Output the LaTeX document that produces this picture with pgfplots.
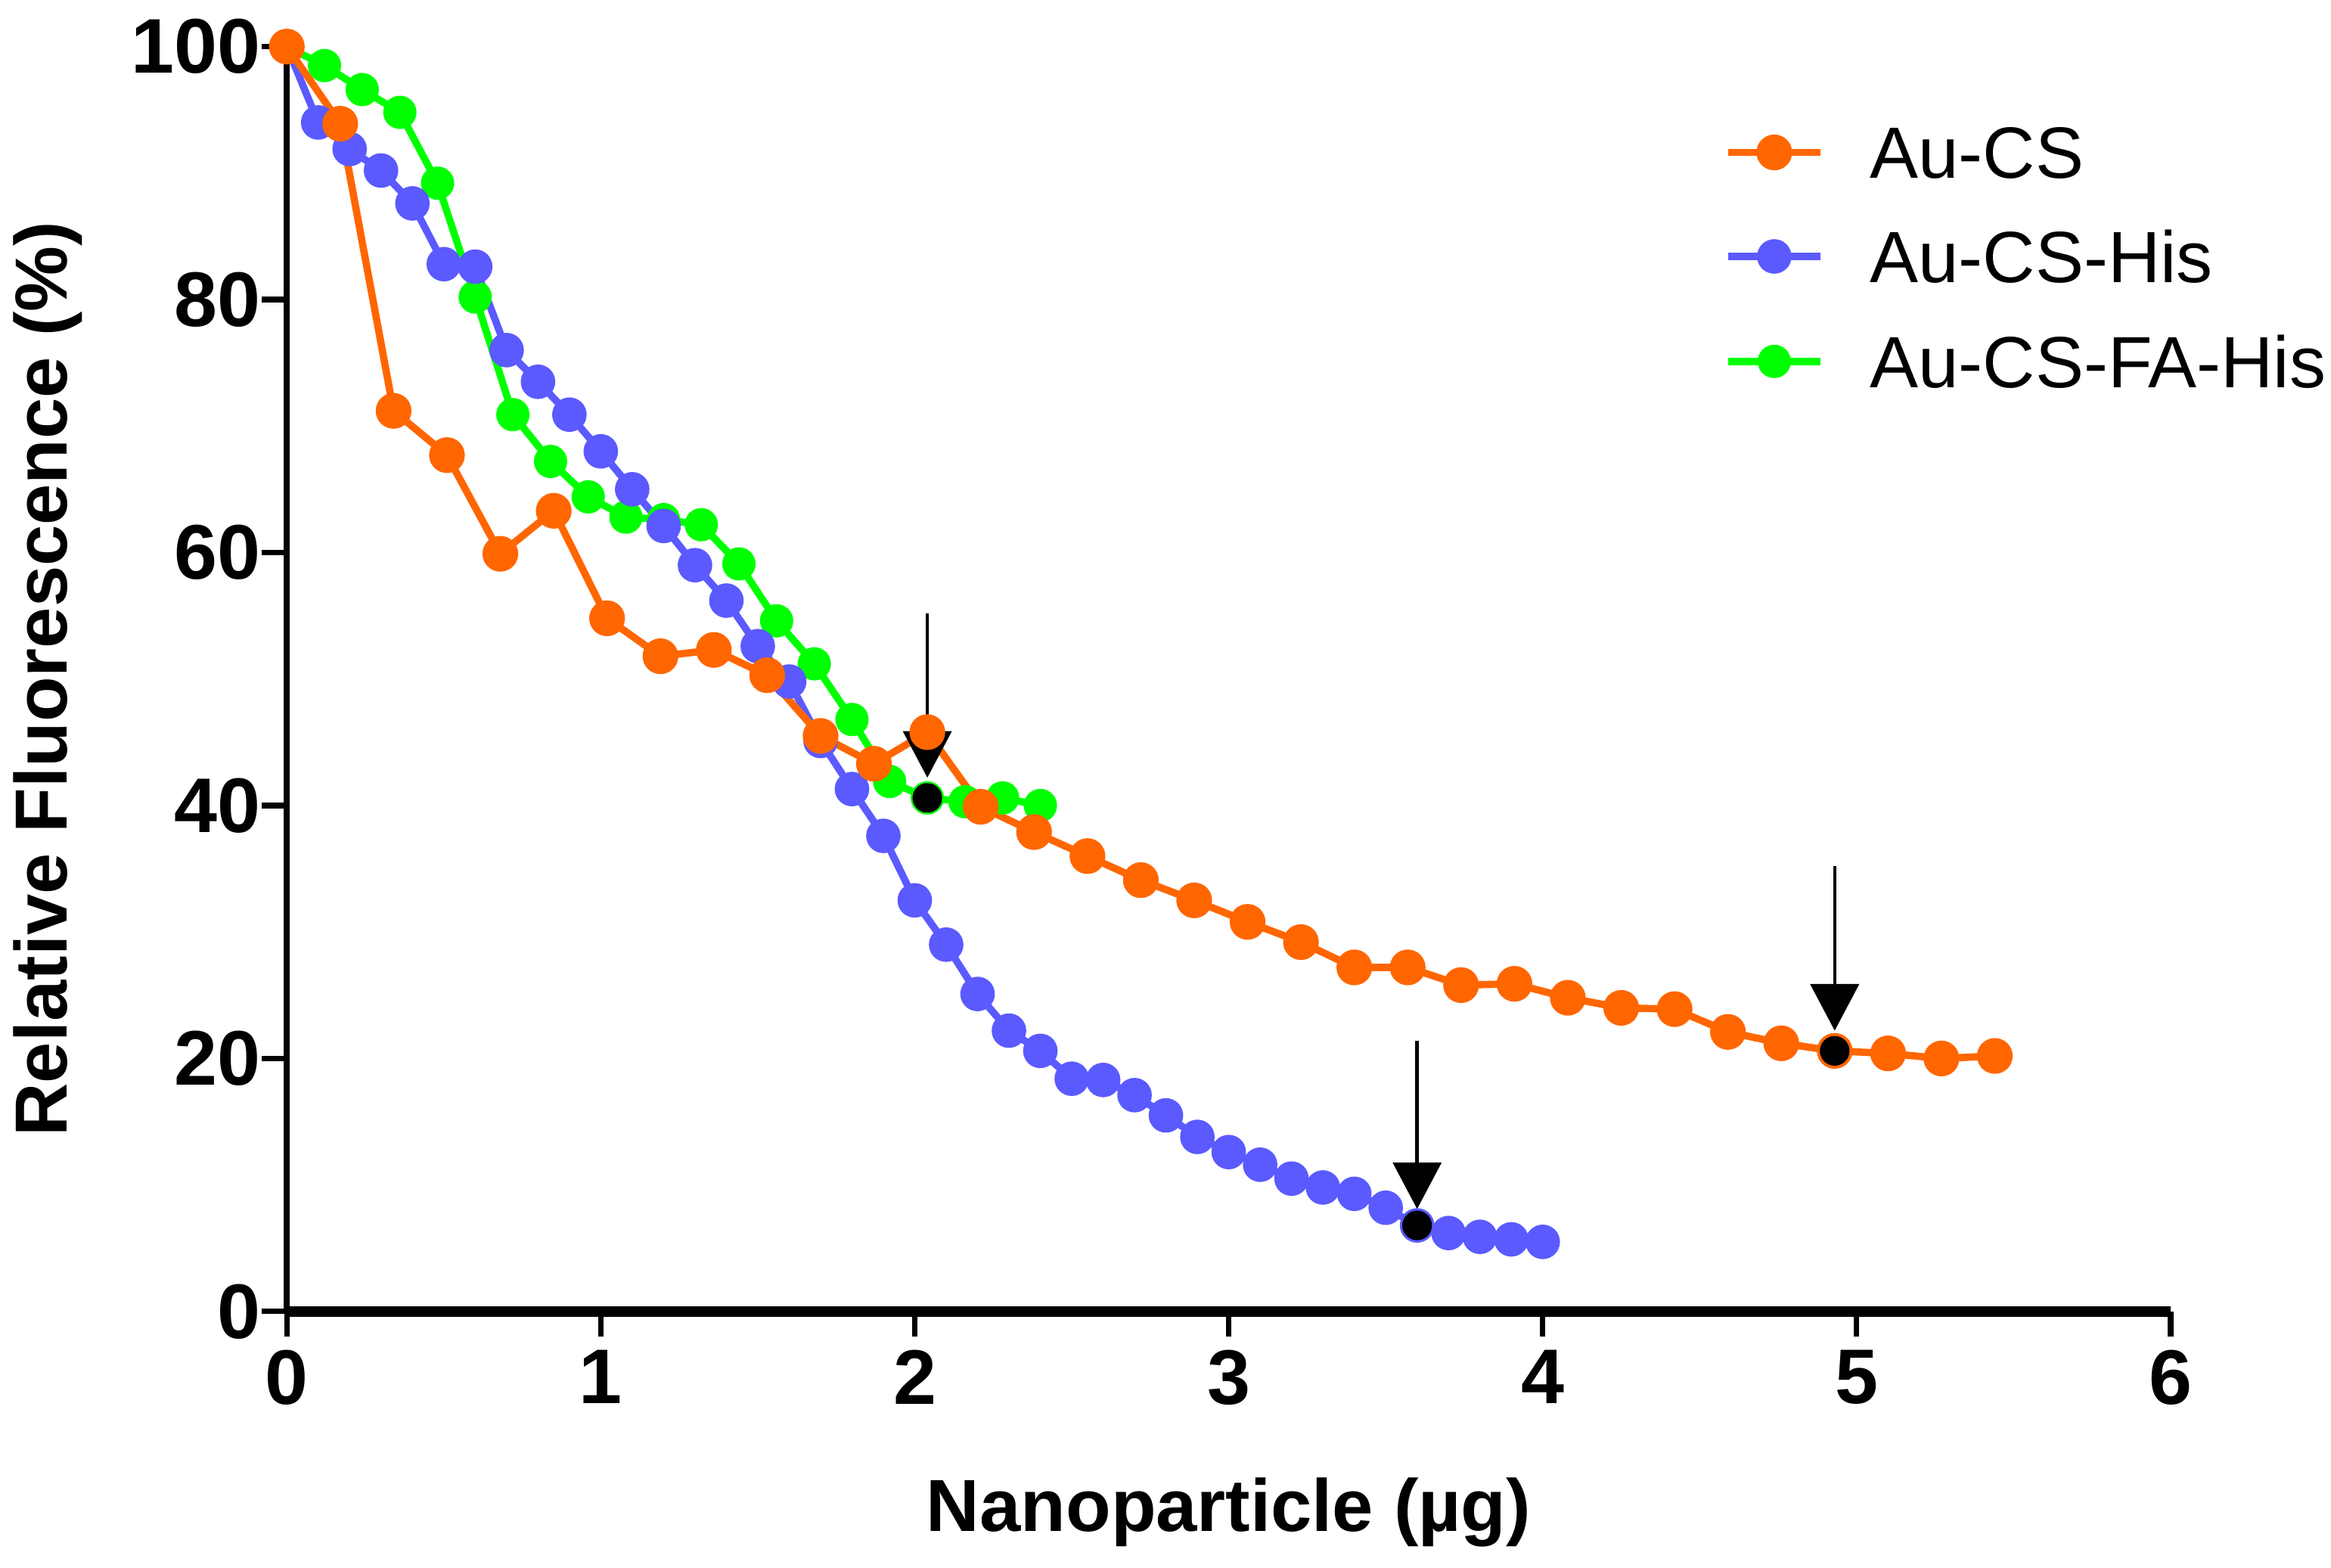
\documentclass[border=0pt]{standalone}
\usepackage{fontspec}
\setmainfont{Liberation Sans}
\usepackage{pgfplots}
\pgfplotsset{compat=1.18}
\usetikzlibrary{arrows.meta}
\definecolor{cOr}{RGB}{255,102,0}
\definecolor{cBl}{RGB}{90,90,255}
\definecolor{cGr}{RGB}{0,255,0}

\pgfplotstableread{
x y
0 100
0.17 93.9
0.34 71.2
0.51 67.7
0.68 59.9
0.85 63.3
1.02 54.8
1.19 51.8
1.36 52.3
1.53 50.3
1.70 45.5
1.87 43.3
2.04 45.8
2.21 39.9
2.38 37.9
2.55 36.0
2.72 34.1
2.89 32.5
3.06 30.8
3.23 29.2
3.40 27.2
3.57 27.2
3.74 25.8
3.91 25.9
4.08 24.8
4.25 24.0
4.42 23.9
4.59 22.1
4.76 21.2
4.93 20.6
5.10 20.4
5.27 20.0
5.44 20.2
}\tblOr

\pgfplotstableread{
x y
0 100
0.1 94.0
0.2 91.9
0.3 90.2
0.4 87.6
0.5 82.8
0.6 82.6
0.7 76.0
0.8 73.5
0.9 70.9
1.0 68.0
1.1 65.0
1.2 62.1
1.3 59.0
1.4 56.2
1.5 52.6
1.6 49.8
1.7 45.1
1.8 41.3
1.9 37.6
2.0 32.5
2.1 29.0
2.2 25.1
2.3 22.2
2.4 20.6
2.5 18.4
2.6 18.3
2.7 17.1
2.8 15.5
2.9 13.8
3.0 12.6
3.1 11.6
3.2 10.5
3.3 9.8
3.4 9.3
3.5 8.2
3.6 6.8
3.7 6.2
3.8 5.9
3.9 5.7
4.0 5.5
}\tblBl

\pgfplotstableread{
x y
0 100
0.12 98.5
0.24 96.6
0.36 94.8
0.48 89.2
0.60 80.2
0.72 70.9
0.84 67.2
0.96 64.4
1.08 62.8
1.20 62.6
1.32 62.2
1.44 59.1
1.56 54.6
1.68 51.2
1.80 46.8
1.92 41.9
2.04 40.6
2.16 40.3
2.28 40.6
2.40 40.0
}\tblGr

\begin{document}
\begin{tikzpicture}
\useasboundingbox (-47.4pt,-42.3pt) rectangle (337.8pt,216.7pt);
\begin{axis}[
  scale only axis, width=311.3pt, height=209pt,
  xmin=0, xmax=6, ymin=0, ymax=100,
  clip=false,
  axis x line=bottom, axis y line=left,
  x axis line style={-, line width=1.8pt},
  y axis line style={-, line width=1.05pt},
  xtick={0,1,...,6}, ytick={0,20,...,100},
  tick align=outside, major tick length=4.2pt,
  tick style={line width=0.9pt, black},
  /pgf/number format/assume math mode=true,
  ticklabel style={font=\fontsize{12.8pt}{14pt}\selectfont\bfseries},
  xticklabel style={anchor=north, inner sep=0pt, yshift=-2pt},
  yticklabel style={anchor=east, inner sep=0pt},
  xlabel={Nanoparticle (µg)},
  ylabel={Relative Fluorescence (\%)},
  label style={font=\fontsize{12.2pt}{15pt}\selectfont\bfseries},
  xlabel style={at={([yshift=-36.3pt]axis description cs:0.5,0)}, anchor=base},
  ylabel style={at={([xshift=-36.35pt]axis description cs:0,0.5)}, anchor=base, rotate=0},
  reverse legend,
  legend cell align=left,
  legend style={draw=none, fill=none, inner sep=0pt, outer sep=0pt,
    at={([xshift=237.6pt,yshift=-13.3pt]axis description cs:0,1)}, anchor=north west,
    row sep=8.65pt, column sep=7.6pt,
    nodes={inner sep=0pt, text depth=0pt},
    font=\fontsize{12pt}{14pt}\selectfont},
  legend image code/.code={
    \draw[mark repeat=2, mark phase=2] plot coordinates {(0pt,0pt) (7.6pt,0pt) (15.2pt,0pt)};
  },
]
\addplot[cGr, line width=1.2pt, mark=*, mark size=2.15pt, mark options={solid, fill=cGr, draw=cGr}] table[x=x,y=y] {\tblGr};
\addlegendentry{Au-CS-FA-His}
\addplot[cBl, line width=1.2pt, mark=*, mark size=2.25pt, mark options={solid, fill=cBl, draw=cBl}] table[x=x,y=y] {\tblBl};
\addlegendentry{Au-CS-His}
\addplot[cOr, line width=1.2pt, mark=*, mark size=2.35pt, mark options={solid, fill=cOr, draw=cOr}] table[x=x,y=y] {\tblOr};
\addlegendentry{Au-CS}
\addplot[only marks, mark=*, mark size=2.25pt, black, forget plot] coordinates {(2.04,40.6) (3.6,6.8) (4.93,20.6)};
\draw[line width=0.55pt, -{Triangle[width=8pt,length=7.7pt]}] (axis cs:2.04,55.2) -- (axis cs:2.04,42.2);
\draw[line width=0.55pt, -{Triangle[width=8pt,length=7.7pt]}] (axis cs:3.6,21.4) -- (axis cs:3.6,8.1);
\draw[line width=0.55pt, -{Triangle[width=8pt,length=7.7pt]}] (axis cs:4.93,35.2) -- (axis cs:4.93,22.2);
\end{axis}
\end{tikzpicture}
\end{document}
